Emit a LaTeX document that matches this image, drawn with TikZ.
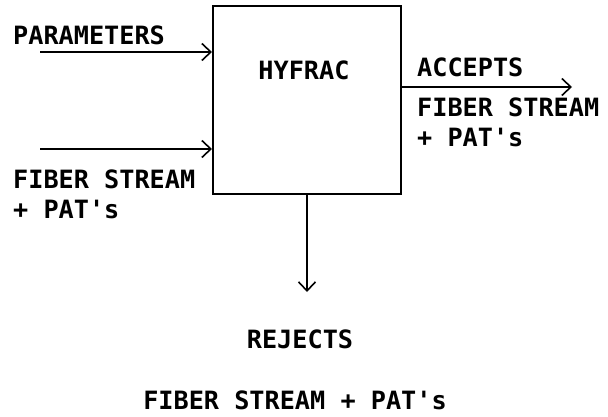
\documentclass[tikz,border=0pt]{standalone}
\usepackage{fontspec}
\setmonofont{DejaVu Sans Mono}
\usetikzlibrary{arrows.meta,positioning}
\tikzset{
  flw/.style={-{Straight Barb[length=9pt,width=17pt,line width=1.6pt]}, line width=2pt},
  blk/.style={draw, line width=2pt, minimum width=188pt, minimum height=188pt, inner sep=0pt},
  lbl/.style={font=\ttfamily\bfseries\fontsize{25.2}{29.5}\selectfont, inner sep=0pt, align=left},
}

\begin{document}
\begin{tikzpicture}[x=1pt,y=-1pt]
  \useasboundingbox (0,0) rectangle (608,417);
  % process block
  \node[blk] (hyfrac) at (307,100) {};
  \node[lbl, anchor=base] (hyname) at (304,80) {HYFRAC};
  % inputs
  \coordinate (parin) at (40,52);
  \coordinate (fibin) at (40,149);
  \draw[flw] (parin) -- (parin -| hyfrac.west);
  \draw[flw] (fibin) -- (fibin -| hyfrac.west);
  \node[lbl, anchor=base west] (parlbl) at (13,45) {PARAMETERS};
  \node[lbl, anchor=north west] (fiblbl) at (13,170) {FIBER STREAM\\+ PAT\textquotesingle s};
  % accepts
  \coordinate (accout) at (572,87);
  \draw[flw] (accout -| hyfrac.east) -- (accout);
  \node[lbl, anchor=base west] (acclbl) at (417,77) {ACCEPTS};
  \node[lbl, anchor=north west] (accfib) at (417,98) {FIBER STREAM\\+ PAT\textquotesingle s};
  % rejects
  \coordinate (rejout) at (307,292);
  \draw[flw] (hyfrac.south) -- (rejout);
  \node[lbl, anchor=base] (rejlbl) at (300,348) {REJECTS};
  \node[lbl, anchor=base] (rejfib) at (295,409) {FIBER STREAM + PAT\textquotesingle s};
\end{tikzpicture}
\end{document}
